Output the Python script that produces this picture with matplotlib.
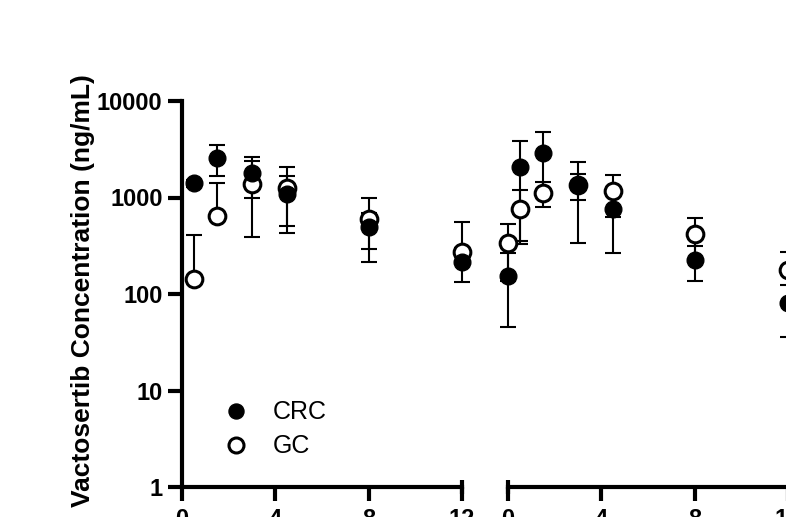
import matplotlib
matplotlib.use('Agg')
import matplotlib.pyplot as plt

plt.rcParams['font.family'] = ['Liberation Sans', 'DejaVu Sans']

# Cycle 1 (left panel) and second profile (right panel), time in hours
time_left = [0.5, 1.5, 3, 4.5, 8, 12]
crc_left_mean = [1400, 2570, 1810, 1100, 490, 217]
crc_left_sd = [120, 900, 820, 590, 200, 83]
gc_left_mean = [142, 649, 1390, 1262, 600, 275]
gc_left_sd = [263, 760, 1000, 830, 384, 284]

time_right = [0, 0.5, 1.5, 3, 4.5, 8, 12]
crc_right_mean = [155, 2090, 2925, 1334, 762, 226, 80]
crc_right_sd = [109, 1760, 1795, 1000, 493, 90, 44]
gc_right_mean = [337, 767, 1119, 1350, 1164, 422, 178]
gc_right_sd = [199, 416, 326, 417, 530, 192, 97]

x_ticks = [0, 4, 8, 12]
y_ticks = [1, 10, 100, 1000, 10000]
y_ticklabels = ['1', '10', '100', '1000', '10000']

LW = 3
W, H = 786, 517


def log_err(mean, sd):
    # on a log axis a lower bar that would go below zero is just left out
    lower = [s if m - s > 0 else 0 for m, s in zip(mean, sd)]
    return [lower, sd]


def draw_panel(ax, t, crc_m, crc_s, gc_m, gc_s):
    ax.errorbar(t, gc_m, yerr=log_err(gc_m, gc_s), fmt='none', ecolor='k',
                elinewidth=1.5, capsize=5.5, capthick=1.5, zorder=2, clip_on=False)
    ax.errorbar(t, crc_m, yerr=log_err(crc_m, crc_s), fmt='none', ecolor='k',
                elinewidth=1.5, capsize=5.5, capthick=1.5, zorder=2, clip_on=False)
    gc, = ax.plot(t, gc_m, 'o', ms=12, mfc='white', mec='k', mew=2.2,
                  ls='none', zorder=3, clip_on=False, label='GC')
    crc, = ax.plot(t, crc_m, 'o', ms=12, mfc='k', mec='k', mew=1,
                   ls='none', zorder=4, clip_on=False, label='CRC')
    ax.set_yscale('log')
    ax.set_ylim(1, 10000)
    ax.set_xlim(0, 12)
    ax.set_xticks(x_ticks)
    ax.set_xticklabels([str(v) for v in x_ticks], fontsize=17, fontweight='bold')
    ax.spines['top'].set_visible(False)
    ax.spines['right'].set_visible(False)
    for s in ax.spines.values():
        s.set_linewidth(LW)
    ax.tick_params(axis='both', which='major', direction='out', length=10,
                   width=LW, pad=4)
    ax.tick_params(axis='x', pad=5)
    ax.tick_params(axis='y', which='minor', length=0)
    return crc, gc


fig = plt.figure(figsize=(W / 100, H / 100), dpi=100)
ax1 = fig.add_axes([182 / W, 30 / H, 280 / W, 386 / H])
ax2 = fig.add_axes([508 / W, 30 / H, 280 / W, 386 / H])

crc, gc = draw_panel(ax1, time_left, crc_left_mean, crc_left_sd, gc_left_mean, gc_left_sd)
draw_panel(ax2, time_right, crc_right_mean, crc_right_sd, gc_right_mean, gc_right_sd)

ax1.set_yticks(y_ticks)
ax1.set_yticklabels(y_ticklabels, fontsize=17, fontweight='bold')
ax1.set_ylabel('Vactosertib Concentration (ng/mL)', fontsize=19, fontweight='bold')
ax1.yaxis.set_label_coords(-0.31, 0.51)

ax2.spines['left'].set_visible(False)
ax2.set_yticks([])
ax2.tick_params(axis='y', which='both', left=False, labelleft=False)

# axis break end caps
ax1.plot([12], [1], marker='|', ms=10, mew=LW, color='k', clip_on=False, zorder=5)
ax2.plot([0], [1], marker='|', ms=10, mew=LW, color='k', clip_on=False, zorder=5)

ax1.legend(handles=[crc, gc], loc='center left', bbox_to_anchor=(0.105, 0.149),
           frameon=False, fontsize=18, handlelength=1, handletextpad=0.94,
           labelspacing=0.4, borderpad=0, markerscale=0.9)

fig.savefig('out.png', dpi=100)
